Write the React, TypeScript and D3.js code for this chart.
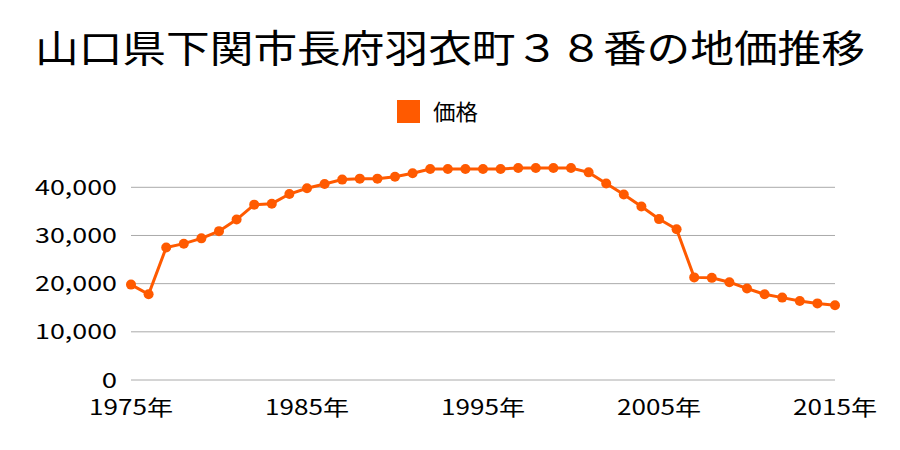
import React from "react";
import * as d3 from "d3";

const title = "山口県下関市長府羽衣町３８番の地価推移";
const legendLabel = "価格";
const years = [1975,1976,1977,1978,1979,1980,1981,1982,1983,1984,1985,1986,1987,1988,1989,1990,1991,1992,1993,1994,1995,1996,1997,1998,1999,2000,2001,2002,2003,2004,2005,2006,2007,2008,2009,2010,2011,2012,2013,2014,2015];
const prices = [19800,17800,27500,28300,29400,30900,33300,36400,36600,38600,39800,40700,41600,41800,41800,42200,42900,43800,43800,43800,43800,43800,44000,44000,44000,44000,43100,40800,38500,36000,33400,31300,21300,21200,20300,19000,17800,17100,16400,15900,15500];
const yTicks = [0, 10000, 20000, 30000, 40000];
const xTicks = [1975, 1985, 1995, 2005, 2015];

const W = 900, H = 450;
const left = 131, right = 835, bottom = 380, top40k = 187.3;

export default function App() {
  const x = d3.scaleLinear().domain([1975, 2015]).range([left, right]);
  const y = d3.scaleLinear().domain([0, 40000]).range([bottom, top40k]);
  const line = d3.line<number>().x((_, i) => x(years[i])).y((d) => y(d));
  const fmt = d3.format(",");
  const color = "#ff5a00";
  const font = "'Noto Sans CJK JP', 'Noto Sans', sans-serif";
  const labelLen = (s: string) => {
    const digits = s.replace(/,/g, "").length;
    const commas = s.length - digits;
    return digits * 15.3 + commas * 5.5;
  };
  return (
    <svg width={W} height={H} style={{ position: "absolute", left: 0, top: 0, background: "#fff" }} fontFamily={font}>
      <text x={35} y={62} fontSize={38} fill="#000" textLength={830} lengthAdjust="spacingAndGlyphs">{title}</text>
      <rect x={397} y={100} width={23} height={23} fill={color} />
      <text x={433} y={120} fontSize={22} fill="#000" textLength={45} lengthAdjust="spacingAndGlyphs">{legendLabel}</text>
      {yTicks.map((t) => {
        const s = fmt(t);
        return (
          <g key={t}>
            <line x1={left} x2={right} y1={y(t)} y2={y(t)} stroke="#aaa" strokeWidth={1} />
            <text x={117} y={y(t) + 7.5} textAnchor="end" fontSize={21} fill="#000" textLength={labelLen(s)} lengthAdjust="spacingAndGlyphs">{s}</text>
          </g>
        );
      })}
      {xTicks.map((t) => (
        <text key={t} x={x(t)} y={415} textAnchor="middle" fontSize={21} fill="#000" textLength={84} lengthAdjust="spacingAndGlyphs">{t}年</text>
      ))}
      <path d={line(prices) || ""} fill="none" stroke={color} strokeWidth={3} />
      {prices.map((p, i) => (
        <circle key={i} cx={x(years[i])} cy={y(p)} r={5} fill={color} />
      ))}
    </svg>
  );
}
